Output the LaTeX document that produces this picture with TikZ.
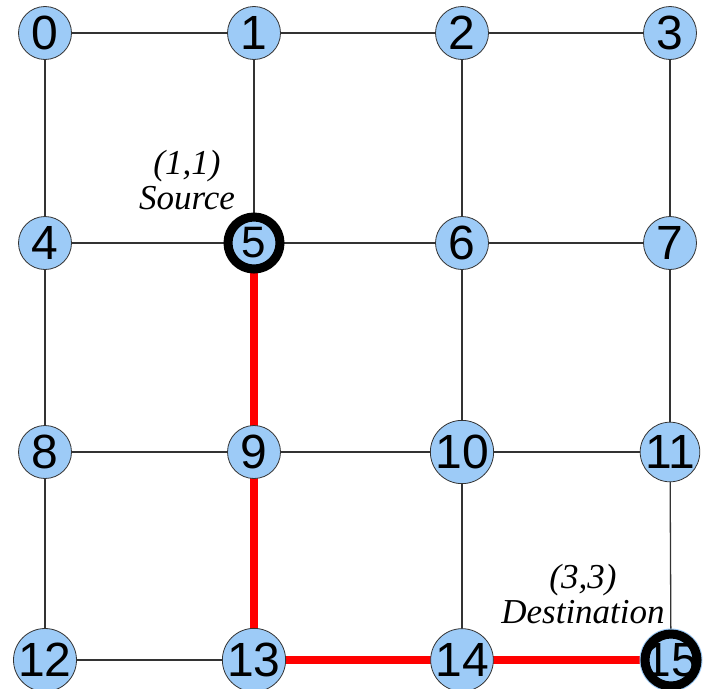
\documentclass[tikz,border=0pt]{standalone}
\usepackage{fontspec}
\setmainfont{Liberation Serif}
\newfontfamily\numfont{Liberation Sans}
\definecolor{nodeblue}{HTML}{9DCBF7}
\definecolor{edgegray}{HTML}{333333}
\definecolor{pathred}{HTML}{FF0000}
\begin{document}
\begin{tikzpicture}[x=1pt,y=-1pt,
  vert/.style={circle,draw=edgegray,line width=0.8pt,fill=nodeblue,minimum size=53pt,inner sep=0pt,
    font=\numfont\fontsize{48}{48}\selectfont},
  endpt/.style={circle,fill=nodeblue,minimum size=58pt,inner sep=0pt},
  ring/.style={draw=black,line width=9pt},
  edge/.style={draw=edgegray,line width=1.3pt},
  route/.style={draw=pathred,line width=8pt},
  lbl/.style={font=\itshape\fontsize{35}{35}\selectfont,align=center,inner sep=0pt}]
\useasboundingbox (0,0) rectangle (703,688);
\foreach \i/\x/\y in {0/45/33,1/254/33,2/462/33,3/670/33,4/45/243,5/254/243,6/462/243,7/670/243,
  8/45/452,9/254/452,10/462/452,11/670/452,12/45/660,13/254/660,14/462/660,15/671/660}
  \coordinate (c\i) at (\x,\y);
% edges
\foreach \a/\b in {0/1,1/2,2/3,4/5,5/6,6/7,8/9,9/10,10/11,12/13,
  0/4,4/8,8/12,1/5,2/6,6/10,10/14,3/7,7/11,11/15}
  \path[edge] (c\a) -- (c\b);
\foreach \a/\b in {5/9,9/13,13/14,14/15}
  \path[route] (c\a) -- (c\b);
% nodes
\foreach \i in {0,1,2,3,4,6,7,8,9,10,11,12,13,14}
  \node[vert] (n\i) at (c\i) {\i};
\node[endpt,font=\numfont\fontsize{44}{44}\selectfont] (n5) at (c5) {5};
\path[ring] (n5.center) circle[radius=26pt];
\node[endpt,font=\numfont\fontsize{48}{48}\selectfont] (n15) at (c15) {15};
\path[ring] (n15.center) circle[radius=26pt];
\node[lbl] (src) at (187,180) {(1,1)\\Source};
\node[lbl] (dst) at (583,594) {(3,3)\\Destination};
\end{tikzpicture}
\end{document}
